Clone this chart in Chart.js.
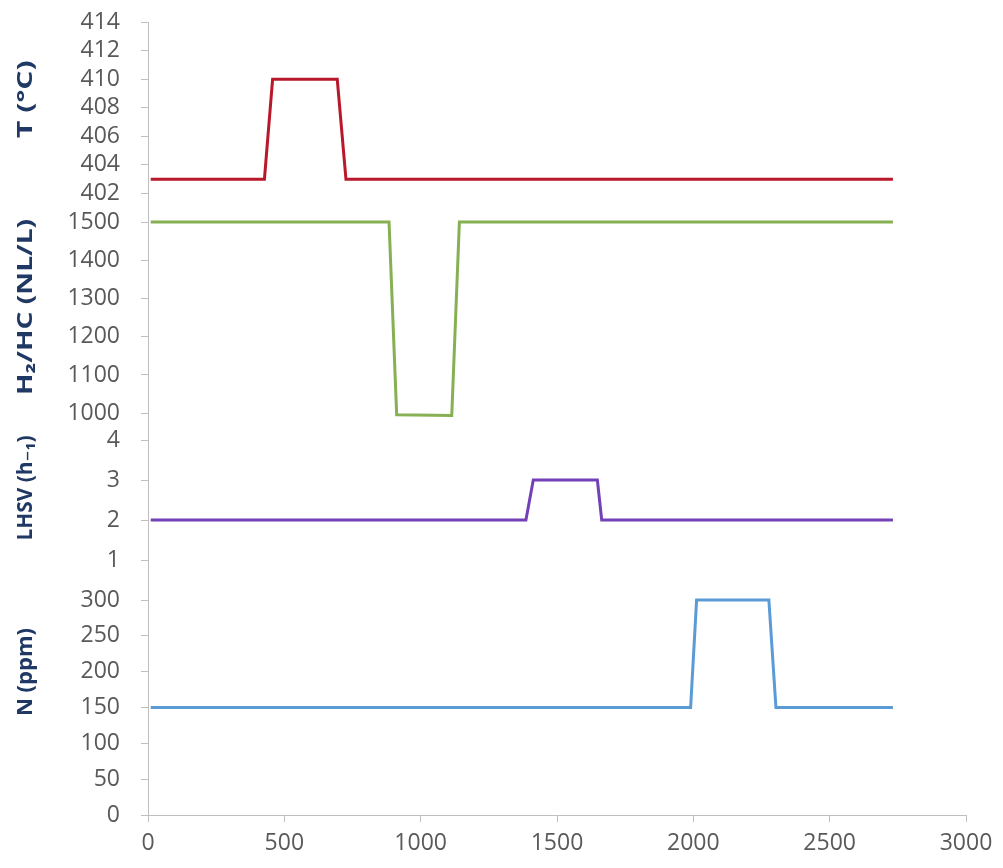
<!DOCTYPE html>
<html>
<head>
<meta charset="utf-8">
<script src="https://cdn.jsdelivr.net/npm/chart.js@4/dist/chart.umd.min.js"></script>
<style>
html,body{margin:0;padding:0;background:#ffffff;}
#wrap{width:1003px;height:868px;position:relative;}
</style>
</head>
<body>
<div id="wrap"><canvas id="c" width="1003" height="868"></canvas></div>
<script>
// ---- data ----
const timeT = [10, 427, 457, 694, 726, 2732];
const tempT = [403, 403, 410, 410, 403, 403];

const timeH = [10, 884, 912, 1114, 1142, 2732];
const h2hc  = [1500, 1500, 996, 994, 1500, 1500];

const timeL = [10, 1386, 1413, 1648, 1664, 2732];
const lhsv  = [2, 2, 3, 3, 2, 2];

const timeN = [10, 1990, 2012, 2277, 2303, 2732];
const nppm  = [150, 150, 300, 300, 150, 150];

const xTicks = [0, 500, 1000, 1500, 2000, 2500, 3000];
const tTicks = [402, 404, 406, 408, 410, 412, 414];
const hTicks = [1000, 1100, 1200, 1300, 1400, 1500];
const lTicks = [1, 2, 3, 4];
const nTicks = [0, 50, 100, 150, 200, 250, 300];

const yTitles = [
  {axis: 'yT', text: 'T (°C)', at: 408.6, stretch: 1.37},
  {axis: 'yH', text: 'H₂/HC (NL/L)', at: 1278, stretch: 1.28},
  {axis: 'yL', text: 'LHSV (h₋₁)', at: 2.8, stretch: 0.95},
  {axis: 'yN', text: 'N (ppm)', at: 199.5, stretch: 1.0}
];

// ---- helpers ----
const pts = (xs, ys) => xs.map((x, i) => ({x: x, y: ys[i]}));
const axisGrey = '#bfbfbf';
const tickFont = {family: '"Open Sans", "DejaVu Sans", sans-serif', size: 23};
const plain = v => String(v);

function yScale(min, max, tickList, weight) {
  return {
    type: 'linear', position: 'left', stack: 'panels', stackWeight: weight,
    min: min, max: max,
    afterBuildTicks: s => { s.ticks = tickList.map(v => ({value: v})); },
    afterFit: s => { s.width = 148; s.paddingTop = 0; s.paddingBottom = 0; },
    ticks: {color: '#595959', font: tickFont, padding: 21, autoSkip: false, callback: plain},
    grid: {drawOnChartArea: false, drawTicks: true, tickLength: 7, color: axisGrey},
    border: {display: true, color: axisGrey, width: 1},
    title: {display: false}
  };
}

const titlePlugin = {
  id: 'ytitles',
  afterDraw(chart) {
    const ctx = chart.ctx;
    yTitles.forEach(t => {
      const s = chart.scales[t.axis];
      const y = s.getPixelForValue(t.at);
      ctx.save();
      ctx.translate(26, y);
      ctx.rotate(-Math.PI / 2);
      ctx.scale(t.stretch, 1);
      ctx.font = 'bold 22px "Open Sans", "DejaVu Sans", sans-serif';
      ctx.fillStyle = '#1f3864';
      ctx.textAlign = 'center';
      ctx.textBaseline = 'middle';
      ctx.fillText(t.text, 0, 0);
      ctx.restore();
    });
  }
};

new Chart(document.getElementById('c'), {
  type: 'line',
  data: {
    datasets: [
      {label: 'T', data: pts(timeT, tempT), yAxisID: 'yT', borderColor: '#b8182a', borderWidth: 3, clip: false},
      {label: 'H2/HC', data: pts(timeH, h2hc), yAxisID: 'yH', borderColor: '#86b053', borderWidth: 3, clip: false},
      {label: 'LHSV', data: pts(timeL, lhsv), yAxisID: 'yL', borderColor: '#7440b8', borderWidth: 3, clip: false},
      {label: 'N', data: pts(timeN, nppm), yAxisID: 'yN', borderColor: '#5b9bd5', borderWidth: 3, clip: false}
    ]
  },
  options: {
    responsive: false,
    animation: false,
    devicePixelRatio: 1,
    layout: {padding: {top: 22, right: 37, bottom: 8, left: 0}},
    elements: {point: {radius: 0}, line: {tension: 0, fill: false}},
    plugins: {legend: {display: false}, tooltip: {enabled: false}},
    scales: {
      x: {
        type: 'linear', position: 'bottom', min: 0, max: 3000,
        afterBuildTicks: s => { s.ticks = xTicks.map(v => ({value: v})); },
        afterFit: s => { s.height = 45; },
        ticks: {color: '#595959', font: tickFont, padding: 8, maxRotation: 0, autoSkip: false, callback: plain},
        grid: {drawOnChartArea: false, drawTicks: true, tickLength: 7, color: axisGrey},
        border: {display: true, color: axisGrey, width: 1}
      },
      // stacked axes are placed bottom-up, so list them bottom panel first
      yN: yScale(0, 300, nTicks, 215),
      yL: yScale(0, 4, lTicks, 160),
      yH: yScale(930, 1500, hTicks, 218),
      yT: yScale(400, 414, tTicks, 200)
    }
  },
  plugins: [titlePlugin]
});
</script>
</body>
</html>
